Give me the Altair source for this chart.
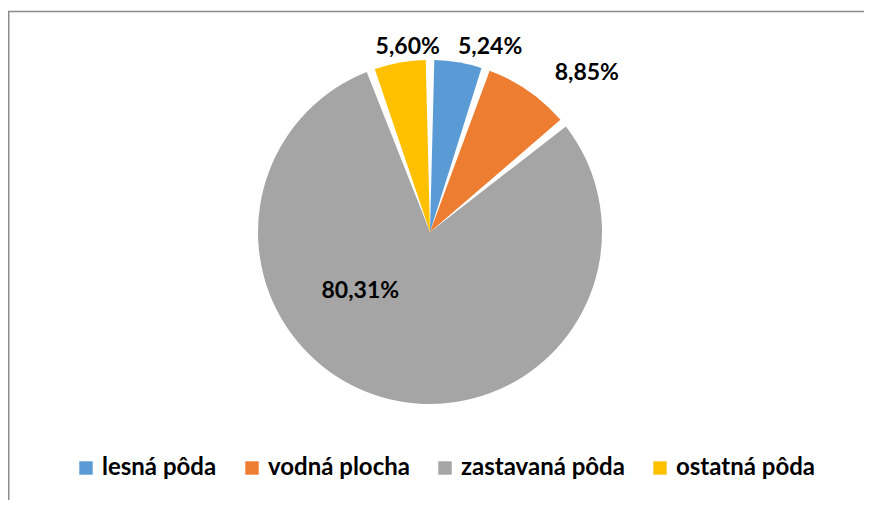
import altair as alt
import pandas as pd

categories = ["lesná pôda", "vodná plocha", "zastavaná pôda", "ostatná pôda"]
shares = [5.24, 8.85, 80.31, 5.60]
labels = ["5,24%", "8,85%", "80,31%", "5,60%"]
colors = ["#5B9BD5", "#ED7D31", "#A5A5A5", "#FFC000"]

df = pd.DataFrame({
    "kategoria": categories,
    "podiel": shares,
    "popis": labels,
    "poradie": list(range(len(categories))),
})

W, H = 856, 492
CX, CY = 422, 224
R = 172
FONT = "Lato"

base = alt.Chart(df).encode(
    theta=alt.Theta("podiel:Q", stack=True),
    order=alt.Order("poradie:Q"),
)

pie = base.mark_arc(outerRadius=R, padAngle=0.05, x=CX, y=CY).encode(
    color=alt.Color(
        "kategoria:N",
        sort=categories,
        scale=alt.Scale(domain=categories, range=colors),
        legend=alt.Legend(
            title=None,
            orient="none",
            legendX=66,
            legendY=448,
            direction="horizontal",
            symbolType="square",
            symbolSize=180,
            symbolStrokeWidth=0,
            labelFont=FONT,
            labelFontSize=24,
            labelFontWeight="bold",
            labelColor="#000000",
            labelOffset=4,
            columnPadding=23,
            labelLimit=300,
        ),
    )
)

def label_layer(cond, radius, dx=0, dy=0):
    return base.transform_calculate(
        txt=f"{cond} ? datum.popis : ''"
    ).mark_text(
        radius=radius, x=CX, y=CY, dx=dx, dy=dy, font=FONT, fontSize=23,
        fontWeight="bold", color="#000000"
    ).encode(text="txt:N")

lab_blue = label_layer("datum.poradie == 0", 196, dx=28, dy=8)
lab_orange = label_layer("datum.poradie == 1", 196, dx=45, dy=2)
lab_yellow = label_layer("datum.poradie == 3", 196, dx=12, dy=8)
lab_gray = label_layer("datum.poradie == 2", 105, dx=-42, dy=-42)

frame_df = pd.DataFrame({"k": [0]})
top_line = alt.Chart(frame_df).mark_rule(color="#8c8c8c", strokeWidth=1.5).encode(
    x=alt.value(0), x2=alt.value(W + 20), y=alt.value(3.5)
)
left_line = alt.Chart(frame_df).mark_rule(color="#8c8c8c", strokeWidth=1.5).encode(
    x=alt.value(0.75), y=alt.value(3.5), y2=alt.value(H + 20)
)

chart = alt.layer(
    pie, lab_blue, lab_orange, lab_yellow, lab_gray, top_line, left_line
).properties(
    width=W, height=H, padding=0, autosize=alt.AutoSizeParams(type="none"),
    background="#ffffff",
).configure_view(stroke=None)

chart.save("out.html", embed_options={"renderer": "svg", "actions": False})
